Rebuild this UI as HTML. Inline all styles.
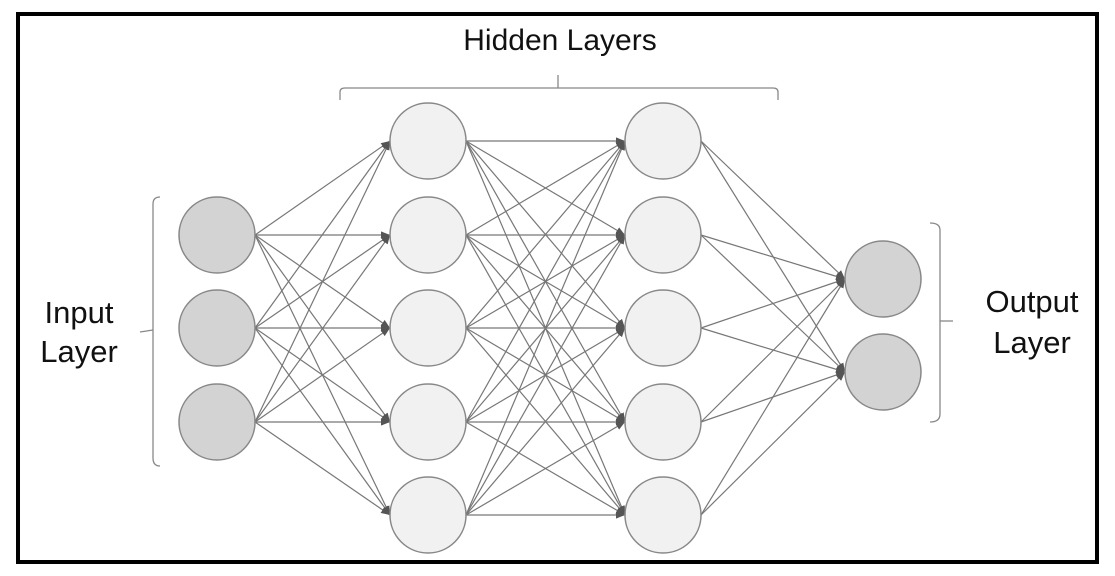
<!DOCTYPE html>
<html><head><meta charset="utf-8"><style>
html,body{margin:0;padding:0;background:#fff;width:1115px;height:576px;overflow:hidden}
svg{display:block}
text{font-family:"Liberation Sans",Arial,sans-serif;fill:#111}
</style></head><body>
<svg width="1115" height="576" viewBox="0 0 1115 576" xmlns="http://www.w3.org/2000/svg">
<defs><marker id="a" viewBox="0 0 10 10" refX="10" refY="5" markerWidth="9" markerHeight="9" markerUnits="userSpaceOnUse" orient="auto"><path d="M0,1 L10,5 L0,9 z" fill="#555"/></marker></defs>
<rect x="18" y="14" width="1079" height="548" fill="#fff" stroke="#000" stroke-width="4"/>
<g id="edges" stroke="#777" stroke-width="1.2" fill="none"></g>
<g id="nodes" stroke="#888" stroke-width="1.5"></g>
<g stroke="#888" stroke-width="1.3" fill="none">
<path d="M160,197 Q153,197 153,204 L153,458 Q153,466 160,466"/>
<path d="M140,332 L153,330"/>
<path d="M340,100 L340,92 Q340,88 345,88 L773,88 Q778,88 778,92 L778,100"/>
<path d="M558,88 L558,75"/>
<path d="M930,223 Q940,223 940,230 L940,414 Q940,422 930,422"/>
<path d="M940,321 L953,321"/>
</g>
<text x="560" y="50" font-size="30" text-anchor="middle">Hidden Layers</text>
<text x="79" y="323" font-size="31" text-anchor="middle">Input</text>
<text x="79" y="362" font-size="31" text-anchor="middle">Layer</text>
<text x="1032" y="312" font-size="31" text-anchor="middle">Output</text>
<text x="1032" y="353" font-size="31" text-anchor="middle">Layer</text>
</svg>
<script>
var L=[[217,[235,328,422],"#d3d3d3"],[428,[141,235,328,422,515],"#f1f1f1"],[663,[141,235,328,422,515],"#f1f1f1"],[883,[279,372],"#d3d3d3"]];
var r=38,ns="http://www.w3.org/2000/svg",E=document.getElementById("edges"),N=document.getElementById("nodes");
for(var i=0;i<3;i++){var A=L[i],B=L[i+1];A[1].forEach(function(y1){B[1].forEach(function(y2){var l=document.createElementNS(ns,"line");l.setAttribute("x1",A[0]+r);l.setAttribute("y1",y1);l.setAttribute("x2",B[0]-r);l.setAttribute("y2",y2);l.setAttribute("marker-end","url(#a)");E.appendChild(l);});});}
L.forEach(function(c){c[1].forEach(function(y){var e=document.createElementNS(ns,"circle");e.setAttribute("cx",c[0]);e.setAttribute("cy",y);e.setAttribute("r",r);e.setAttribute("fill",c[2]);N.appendChild(e);});});
</script>
</body></html>
